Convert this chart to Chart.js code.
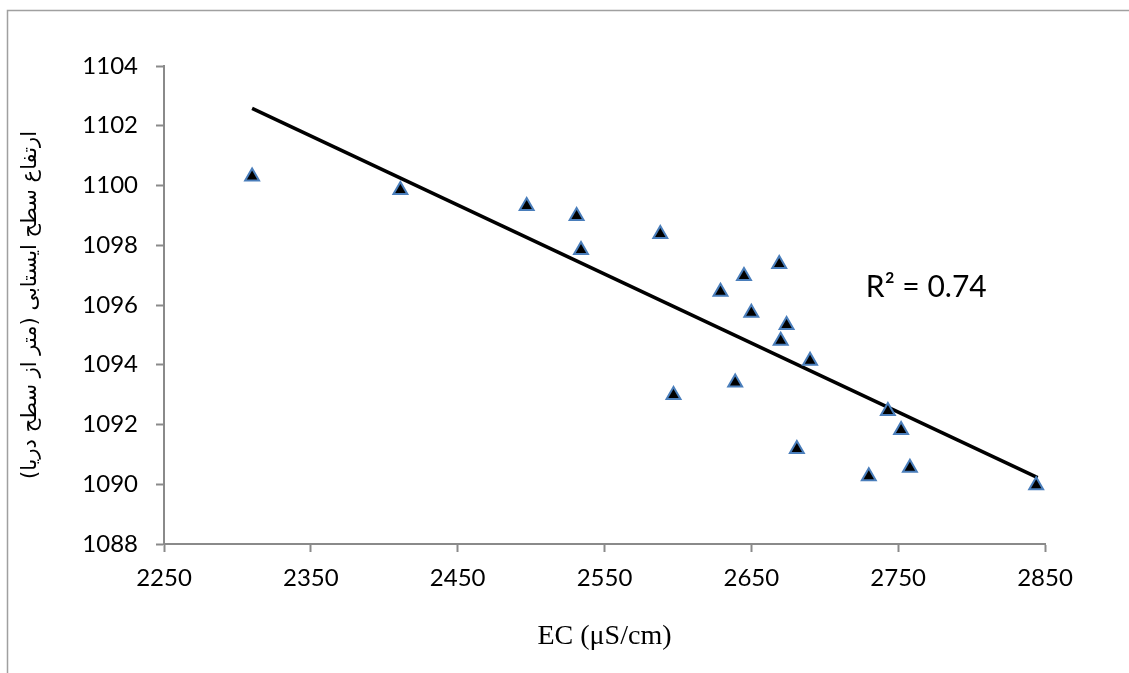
<!DOCTYPE html>
<html>
<head>
<meta charset="utf-8">
<script src="https://cdn.jsdelivr.net/npm/chart.js@4/dist/chart.umd.min.js"></script>
<style>
  html, body { margin: 0; padding: 0; background: #ffffff; }
  #wrap { width: 1129px; height: 673px; position: relative; }
</style>
</head>
<body>
<div id="wrap"><canvas id="c" width="1129" height="673"></canvas></div>
<script>
// ---- Data ----
const ecValues = [2310, 2411, 2497, 2531, 2534, 2588, 2597, 2629, 2639, 2645, 2650, 2669, 2670, 2674, 2681, 2690, 2730, 2743, 2752, 2758, 2844];
const elevationValues = [1100.30, 1099.85, 1099.31, 1098.98, 1097.84, 1098.38, 1092.99, 1096.44, 1093.41, 1096.97, 1095.74, 1097.37, 1094.80, 1095.33, 1091.18, 1094.13, 1090.27, 1092.45, 1091.82, 1090.55, 1089.97];
const trendX = [2310, 2845];
const trendY = [1102.58, 1090.22];
const xTicks = [2250, 2350, 2450, 2550, 2650, 2750, 2850];
const yTicks = [1088, 1090, 1092, 1094, 1096, 1098, 1100, 1102, 1104];
const xTitle = 'EC (\u03BCS/cm)';
const yTitle = '\u200F' + 'ارتفاع سطح ایستابی (متر از سطح دریا)' + '\u200F';
const r2Label = 'R\u00B2 = 0.74';
const r2Pos = [2728, 1096.6];

const points = ecValues.map((x, i) => ({ x: x, y: elevationValues[i] }));
const trend = trendX.map((x, i) => ({ x: x, y: trendY[i] }));

const AXIS = '#8a8a8a';
const TICKFONT = { family: 'Lato, "Open Sans", sans-serif', size: 24 };

const decor = {
  id: 'decor',
  beforeDraw(chart) {
    const ctx = chart.ctx;
    ctx.save();
    ctx.strokeStyle = '#a0a0a0';
    ctx.lineWidth = 1.5;
    ctx.beginPath();
    ctx.moveTo(7.5, 673);
    ctx.lineTo(7.5, 10.5);
    ctx.lineTo(1129, 10.5);
    ctx.stroke();
    ctx.restore();
  },
  afterDraw(chart) {
    const ctx = chart.ctx;
    const xs = chart.scales.x, ys = chart.scales.y;
    ctx.save();
    ctx.fillStyle = '#000';
    ctx.font = '30px Lato, "Open Sans", sans-serif';
    ctx.textAlign = 'left';
    ctx.textBaseline = 'middle';
    ctx.fillText(r2Label, xs.getPixelForValue(r2Pos[0]), ys.getPixelForValue(r2Pos[1]));
    ctx.restore();
  }
};

new Chart(document.getElementById('c'), {
  type: 'scatter',
  data: {
    datasets: [
      {
        label: 'points',
        data: points,
        pointStyle: 'triangle',
        pointRadius: 8,
        pointHoverRadius: 8,
        pointBorderWidth: 2,
        pointBorderColor: '#4A7EBB',
        pointBackgroundColor: '#000000',
        showLine: false,
        order: 1
      },
      {
        label: 'trend',
        data: trend,
        showLine: true,
        borderColor: '#000000',
        borderWidth: 3.5,
        pointRadius: 0,
        pointHoverRadius: 0,
        fill: false,
        order: 2
      }
    ]
  },
  options: {
    responsive: false,
    animation: false,
    devicePixelRatio: 1,
    layout: { padding: { left: 0, right: 84, top: 66, bottom: 0 } },
    plugins: {
      legend: { display: false },
      tooltip: { enabled: false }
    },
    scales: {
      x: {
        type: 'linear',
        min: 2250,
        max: 2850,
        afterBuildTicks(scale) { scale.ticks = xTicks.map(v => ({ value: v })); },
        afterFit(scale) { scale.height = 129; },
        grid: { display: true, drawOnChartArea: false, drawTicks: true, tickLength: 8, tickColor: AXIS, tickWidth: 2 },
        border: { display: true, color: AXIS, width: 2 },
        ticks: { color: '#000', font: TICKFONT, padding: 12, maxRotation: 0, autoSkip: false, callback: v => String(v) },
        title: { display: true, text: xTitle, color: '#000', font: { family: '"Liberation Serif", "Times New Roman", serif', size: 28 }, padding: { top: 0, bottom: 20 } }
      },
      y: {
        type: 'linear',
        min: 1088,
        max: 1104,
        afterBuildTicks(scale) { scale.ticks = yTicks.map(v => ({ value: v })); },
        afterFit(scale) { scale.width = 164; },
        grid: { display: true, drawOnChartArea: false, drawTicks: true, tickLength: 8, tickColor: AXIS, tickWidth: 2 },
        border: { display: true, color: AXIS, width: 2 },
        ticks: { color: '#000', font: TICKFONT, padding: 18, autoSkip: false, callback: v => String(v) },
        title: { display: true, text: yTitle, color: '#000', font: { family: '"DejaVu Sans", sans-serif', size: 21 }, padding: { top: 18, bottom: 0 } }
      }
    }
  },
  plugins: [decor]
});
</script>
</body>
</html>
